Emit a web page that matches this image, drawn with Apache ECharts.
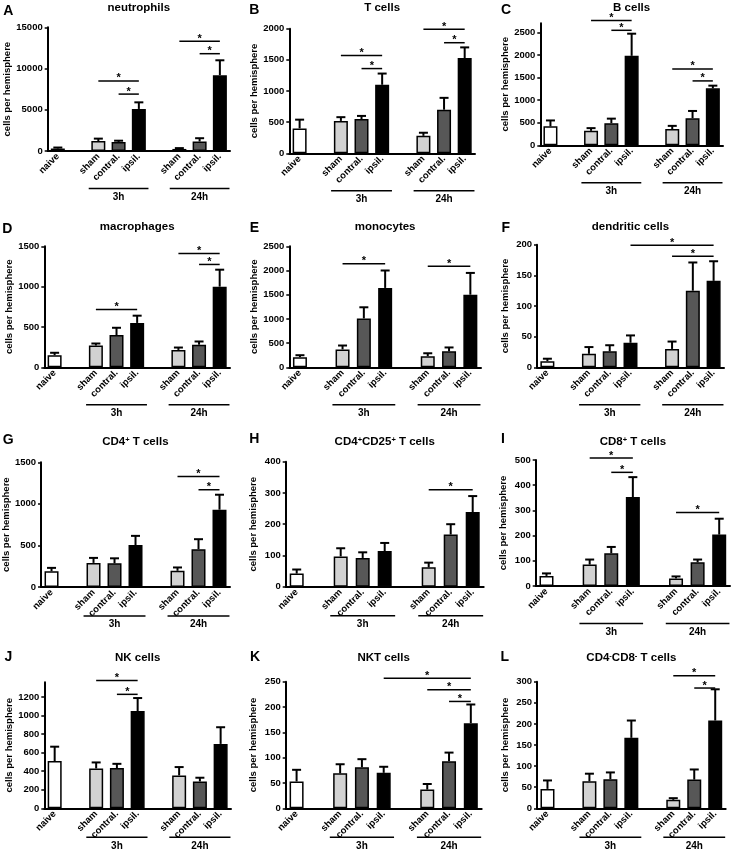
<!DOCTYPE html>
<html><head><meta charset="utf-8">
<script src="https://cdn.jsdelivr.net/npm/echarts@6/dist/echarts.min.js"></script>
<style>html,body{margin:0;padding:0;background:#fff}#c{width:733px;height:859px}</style>
</head><body><div id="c"></div>
<script>
// ---------- data ----------
const categories = ['naive', '', 'sham', 'contral.', 'ipsil.', '', 'sham', 'contral.', 'ipsil.'];
const groupLabels = ['3h', '24h'];
const panelLetters = ['A','B','C','D','E','F','G','H','I','J','K','L'];
const panelTitles = ['neutrophils','T cells','B cells','macrophages','monocytes','dendritic cells',
  'CD4{s|+} T cells','CD4{s|+}CD25{s|+} T cells','CD8{s|+} T cells','NK cells','NKT cells','CD4{s|-}CD8{s|-} T cells'];
const yLabel = 'cells per hemisphere';

// means and SEM for: naive, sham 3h, contral. 3h, ipsil. 3h, sham 24h, contral. 24h, ipsil. 24h
const neutrophilsMean = [300, 1200, 1100, 5100, 250, 1150, 9200];
const neutrophilsSem  = [120, 300, 150, 800, 100, 400, 1800];
const tCellsMean = [400, 520, 550, 1100, 280, 700, 1530];
const tCellsSem  = [140, 60, 50, 180, 50, 190, 170];
const bCellsMean = [420, 320, 490, 1980, 360, 600, 1260];
const bCellsSem  = [130, 60, 100, 490, 70, 160, 60];
const macrophagesMean = [150, 270, 400, 550, 215, 280, 1000];
const macrophagesSem  = [30, 25, 90, 90, 30, 40, 210];
const monocytesMean = [210, 370, 1010, 1640, 230, 330, 1500];
const monocytesSem  = [40, 80, 230, 360, 60, 80, 450];
const dendriticMean = [10, 22, 26, 40, 30, 125, 141];
const dendriticSem  = [4, 11, 10, 12, 12, 46, 32];
const cd4Mean = [190, 290, 285, 505, 195, 455, 930];
const cd4Sem  = [40, 60, 60, 110, 40, 120, 180];
const cd4cd25Mean = [42, 97, 92, 114, 62, 167, 239];
const cd4cd25Sem  = [13, 26, 18, 26, 15, 33, 51];
const cd8Mean = [40, 85, 130, 353, 30, 94, 204];
const cd8Sem  = [10, 20, 25, 79, 8, 11, 63];
const nkMean = [510, 430, 435, 1050, 355, 290, 695];
const nkSem  = [155, 65, 45, 140, 90, 40, 180];
const nktMean = [53, 69, 81, 70, 37, 93, 168];
const nktSem  = [23, 18, 16, 12, 11, 17, 37];
const dnMean = [46, 64, 69, 167, 20, 68, 208];
const dnSem  = [20, 18, 16, 41, 4, 24, 74];

// significance brackets: [from category index, to category index, height value]
const neutrophilsSig = [[2,4,8500],[3,4,6900],[6,8,13300],[7,8,11800]];
const tCellsSig = [[2,4,1570],[3,4,1360],[6,8,1990],[7,8,1775]];
const bCellsSig = [[2,4,2760],[3,4,2545],[6,8,1690],[7,8,1425]];
const macrophagesSig = [[2,4,715],[6,8,1410],[7,8,1275]];
const monocytesSig = [[2,4,2140],[6,8,2090]];
const dendriticSig = [[4,8,199],[6,8,181]];
const cd4Sig = [[6,8,1330],[7,8,1170]];
const cd4cd25Sig = [[6,8,310]];
const cd8Sig = [[2,4,508],[3,4,451],[6,8,292]];
const nkSig = [[2,4,1380],[3,4,1230]];
const nktSig = [[4,8,257],[6,8,234],[7,8,211]];
const dnSig = [[6,8,314],[7,8,285]];

// y axis ranges and tick labels
const yMaxes = [15000, 2000, 2700, 1500, 2500, 200, 1500, 400, 500, 1360, 250, 300];
const yTicks = [
  [0,5000,10000,15000],[0,500,1000,1500,2000],[0,500,1000,1500,2000,2500],
  [0,500,1000,1500],[0,500,1000,1500,2000,2500],[0,50,100,150,200],
  [0,500,1000,1500],[0,100,200,300,400],[0,100,200,300,400,500],
  [0,200,400,600,800,1000,1200],[0,50,100,150,200,250],[0,50,100,150,200,250,300]
];

const means = [neutrophilsMean,tCellsMean,bCellsMean,macrophagesMean,monocytesMean,dendriticMean,cd4Mean,cd4cd25Mean,cd8Mean,nkMean,nktMean,dnMean];
const sems = [neutrophilsSem,tCellsSem,bCellsSem,macrophagesSem,monocytesSem,dendriticSem,cd4Sem,cd4cd25Sem,cd8Sem,nkSem,nktSem,dnSem];
const sigs = [neutrophilsSig,tCellsSig,bCellsSig,macrophagesSig,monocytesSig,dendriticSig,cd4Sig,cd4cd25Sig,cd8Sig,nkSig,nktSig,dnSig];

// ---------- layout & style ----------
const FONT = '"Liberation Sans", Arial, Helvetica, sans-serif';
const slotOf = [0, 2, 3, 4, 6, 7, 8];
const fills = ['#ffffff', '#d2d2d2', '#575757', '#000000', '#d2d2d2', '#575757', '#000000'];
// [left x, y of max, right x, y of zero]
const layout = [
  [47.7, 27.3, 230, 151], [289.3, 28.7, 475, 153.3], [540.3, 23.3, 723, 145.3],
  [44.3, 246.3, 230, 367.3], [289.3, 246.3, 481, 367.3], [537, 244.7, 724, 367.3],
  [40.7, 462.3, 230, 587], [285.7, 461.7, 483.7, 586.7], [535.7, 460, 730, 586],
  [44.3, 682.3, 231, 808.3], [285.7, 681.7, 481.7, 808.3], [537, 681.7, 725.7, 808.3]
];
const groupOffset = [37.5, 37.5, 37.5, 37.5, 37.5, 37.5, 29, 29, 37.5, 29, 29, 29];
const letterPos = [[8.3,10.8],[254.3,10.5],[506,10.3],[7.3,228.7],[254.3,228],[505.7,228.3],
  [8.3,439.7],[254.3,439],[503,439],[8.3,657],[255,657],[504.7,657]];
const titleRowY = [8.3, 227, 442.3, 658];

const grids = [], xAxes = [], yAxes = [], series = [], graphics = [];
for (let i = 0; i < 12; i++) {
  const [l, t, r, b] = layout[i];
  grids.push({ left: l, top: t, width: r - l, height: b - t, containLabel: false });
  xAxes.push({
    gridIndex: i, type: 'category', data: categories, boundaryGap: true,
    axisLine: { lineStyle: { color: '#000', width: 2 } },
    axisTick: { show: false },
    axisLabel: { interval: 0, rotate: 45, margin: 4, fontSize: 9.5, fontWeight: 'bold', fontFamily: FONT, color: '#000' }
  });
  yAxes.push({
    gridIndex: i, type: 'value', min: 0, max: yMaxes[i],
    splitLine: { show: false },
    axisLine: { show: true, lineStyle: { color: '#000', width: 2 } },
    axisTick: { show: true, length: 3, customValues: yTicks[i], lineStyle: { color: '#000', width: 1.5 } },
    axisLabel: { customValues: yTicks[i], formatter: v => String(v), margin: 5, fontSize: 9.5, fontWeight: 'bold', fontFamily: FONT, color: '#000' },
    name: yLabel, nameLocation: 'middle', nameGap: 27,
    nameTextStyle: { fontSize: 9.5, fontWeight: 'bold', fontFamily: FONT, color: '#000' }
  });
  const barData = categories.map(() => '-');
  means[i].forEach((v, k) => { barData[slotOf[k]] = { value: v, itemStyle: { color: fills[k] } }; });
  series.push({
    type: 'bar', xAxisIndex: i, yAxisIndex: i, barWidth: 14, silent: true, animation: false,
    itemStyle: { borderColor: '#000', borderWidth: 1.5 }, data: barData, z: 2
  });
  series.push({
    type: 'custom', xAxisIndex: i, yAxisIndex: i, clip: false, silent: true, animation: false, z: 3,
    data: means[i].map((v, k) => [slotOf[k], v, v + sems[i][k]]),
    renderItem: (params, api) => {
      const a = api.coord([api.value(0), api.value(1)]);
      const c = api.coord([api.value(0), api.value(2)]);
      return { type: 'group', children: [
        { type: 'line', shape: { x1: a[0], y1: a[1], x2: c[0], y2: c[1] }, style: { stroke: '#000', lineWidth: 2 } },
        { type: 'line', shape: { x1: c[0] - 4.5, y1: c[1], x2: c[0] + 4.5, y2: c[1] }, style: { stroke: '#000', lineWidth: 2 } }
      ] };
    }
  });
  series.push({
    type: 'custom', xAxisIndex: i, yAxisIndex: i, clip: false, silent: true, animation: false, z: 4,
    data: sigs[i],
    renderItem: (params, api) => {
      const a = api.coord([api.value(0), api.value(2)]);
      const c = api.coord([api.value(1), api.value(2)]);
      return { type: 'group', children: [
        { type: 'line', shape: { x1: a[0], y1: a[1], x2: c[0], y2: c[1] }, style: { stroke: '#000', lineWidth: 1.5 } },
        { type: 'text', style: { text: '*', x: (a[0] + c[0]) / 2, y: a[1] + 3, align: 'center', verticalAlign: 'bottom',
          font: 'bold 11px ' + FONT, fill: '#000' } }
      ] };
    }
  });
  const off = groupOffset[i];
  series.push({
    type: 'custom', xAxisIndex: i, yAxisIndex: i, clip: false, silent: true, animation: false, z: 4,
    data: [[2, 4, 0], [6, 8, 1]],
    renderItem: (params, api) => {
      const a = api.coord([api.value(0), 0]);
      const c = api.coord([api.value(1), 0]);
      const half = api.size([1, 0])[0] / 2 * 0.95;
      const y = a[1] + off;
      return { type: 'group', children: [
        { type: 'line', shape: { x1: a[0] - half, y1: y, x2: c[0] + half, y2: y }, style: { stroke: '#000', lineWidth: 1.5 } },
        { type: 'text', style: { text: groupLabels[api.value(2)], x: (a[0] + c[0]) / 2, y: y + 8.5, align: 'center', verticalAlign: 'middle',
          font: 'bold 10px ' + FONT, fill: '#000' } }
      ] };
    }
  });
  graphics.push({ type: 'text', x: letterPos[i][0], y: letterPos[i][1], silent: true,
    style: { text: panelLetters[i], align: 'center', verticalAlign: 'middle', font: 'bold 14px ' + FONT, fill: '#000' } });
  graphics.push({ type: 'text', x: (l + r) / 2, y: titleRowY[Math.floor(i / 3)], silent: true,
    style: { text: panelTitles[i], align: 'center', verticalAlign: 'middle', fontSize: 11.5, fontWeight: 'bold', fontFamily: FONT, fill: '#000',
      rich: { s: { fontSize: 7.5, fontWeight: 'bold', fontFamily: FONT, verticalAlign: 'top', fill: '#000' } } } });
}

const chart = echarts.init(document.getElementById('c'), null, { renderer: 'canvas' });
chart.setOption({
  animation: false,
  backgroundColor: '#fff',
  grid: grids, xAxis: xAxes, yAxis: yAxes, series: series, graphic: graphics
});
</script></body></html>
